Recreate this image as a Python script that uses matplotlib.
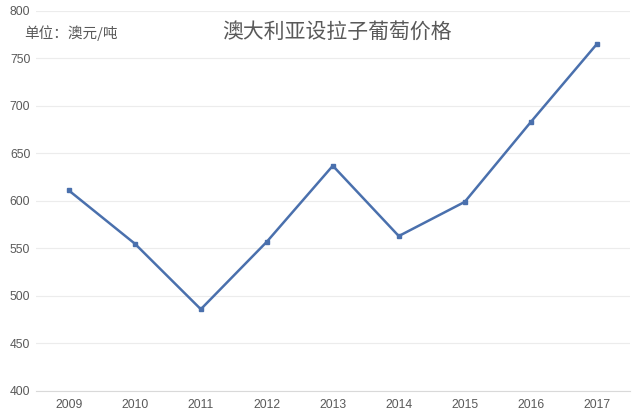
import numpy as np
import matplotlib.pyplot as plt

plt.rcParams['font.family'] = ['Liberation Sans', 'Noto Sans CJK SC', 'DejaVu Sans']

years = ['2009', '2010', '2011', '2012', '2013', '2014', '2015', '2016', '2017']
prices = [611, 555, 486, 557, 637, 563, 599, 683, 765]

fig = plt.figure(figsize=(6.4, 4.19), dpi=100)
ax = fig.add_axes([0.056, 0.067, 0.928, 0.907])

x = np.arange(len(years))
ax.plot(x, prices, color='#4a70ad', linewidth=1.8, marker='s', markersize=3.2)

ax.set_xlim(-0.5, len(years) - 0.5)
ax.set_ylim(400, 800)
ax.set_yticks(np.arange(400, 801, 50))
ax.set_xticks(x)
ax.set_xticklabels(years)
ax.grid(axis='y', color='#ececec', linewidth=0.8)
ax.set_axisbelow(True)
for s in ax.spines.values():
    s.set_visible(False)
ax.spines['bottom'].set_visible(True)
ax.spines['bottom'].set_color('#d9d9d9')
ax.tick_params(length=0, labelsize=8.7, colors='#595959', pad=6)
ax.tick_params(axis='y', pad=4)

fig.text(0.527, 0.925, '澳大利亚设拉子葡萄价格', fontsize=15, color='#595959',
         ha='center', va='center', family=['Noto Sans CJK SC', 'DejaVu Sans'])
fig.text(0.038, 0.922, '单位：澳元/吨', fontsize=10.5, color='#595959',
         ha='left', va='center', family=['Noto Sans CJK SC', 'DejaVu Sans'])

fig.savefig('out.png', dpi=100, facecolor='white')
